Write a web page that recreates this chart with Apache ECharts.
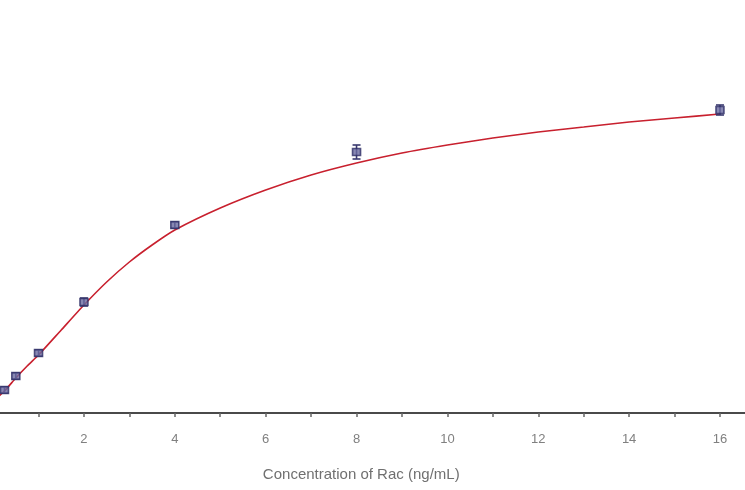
<!DOCTYPE html>
<html>
<head>
<meta charset="utf-8">
<script src="https://cdn.jsdelivr.net/npm/echarts@6/dist/echarts.min.js"></script>
<style>html,body{margin:0;padding:0;background:#fff;}#c{width:745px;height:490px;}</style>
</head>
<body>
<div id="c"></div>
<script>
// Measured points: concentration (ng/mL) and response
var concentrations = [0.25, 0.5, 1, 2, 4, 8, 16];
var responses = [0.23, 0.37, 0.60, 1.11, 1.88, 2.61, 3.03];
var errors = [0.03, 0.03, 0.03, 0.04, 0.03, 0.07, 0.05];
// Fitted curve
var curveX = [0, 0.25, 0.5, 0.75, 1, 1.5, 2, 2.5, 3, 3.5, 4, 5, 6, 7, 8, 9, 10, 11, 12, 13, 14, 15, 16];
var curveY = [0.12, 0.22, 0.35, 0.47, 0.58, 0.83, 1.08, 1.31, 1.51, 1.68, 1.83, 2.05, 2.23, 2.38, 2.50, 2.60, 2.68, 2.75, 2.81, 2.86, 2.91, 2.95, 2.99];
var xTicks = [0, 2, 4, 6, 8, 10, 12, 14, 16];

var pts = concentrations.map(function (c, i) { return [c, responses[i]]; });
var errData = concentrations.map(function (c, i) { return [c, responses[i] - errors[i], responses[i] + errors[i]]; });
var curve = curveX.map(function (c, i) { return [c, curveY[i]]; });

var chart = echarts.init(document.getElementById('c'));
chart.setOption({
  animation: false,
  backgroundColor: '#ffffff',
  grid: { left: -6.9, right: -20.4, top: 13, bottom: 77, containLabel: false, outerBoundsMode: 'none' },
  xAxis: {
    type: 'value', min: 0, max: 17, interval: 1,
    axisLine: { onZero: false, lineStyle: { color: '#4a4a4a', width: 2 } },
    axisTick: { show: true, length: 4, lineStyle: { color: '#666', width: 1.5 } },
    splitLine: { show: false },
    axisLabel: {
      margin: 20, color: '#808080', fontSize: 13, fontFamily: 'Liberation Sans',
      formatter: function (v) { return xTicks.indexOf(v) >= 0 ? String(v) : ''; }
    },
    name: 'Concentration of Rac (ng/mL)', nameLocation: 'middle', nameGap: 54,
    nameTextStyle: { color: '#707070', fontSize: 15, fontFamily: 'Liberation Sans', padding: [0, 36, 0, 0] }
  },
  yAxis: { type: 'value', min: 0, max: 4, show: false, splitLine: { show: false } },
  series: [
    {
      type: 'line', data: curve, smooth: 0.2, showSymbol: false, symbol: 'none',
      lineStyle: { color: '#c8202e', width: 1.6 }, z: 2
    },
    {
      type: 'custom', z: 3,
      renderItem: function (params, api) {
        var x = api.value(0);
        var lo = api.coord([x, api.value(1)]);
        var hi = api.coord([x, api.value(2)]);
        var hw = 4;
        var st = { stroke: '#3a3a70', lineWidth: 1.6 };
        return {
          type: 'group', children: [
            { type: 'line', shape: { x1: lo[0], y1: lo[1], x2: hi[0], y2: hi[1] }, style: st },
            { type: 'line', shape: { x1: lo[0] - hw, y1: lo[1], x2: lo[0] + hw, y2: lo[1] }, style: st },
            { type: 'line', shape: { x1: hi[0] - hw, y1: hi[1], x2: hi[0] + hw, y2: hi[1] }, style: st }
          ]
        };
      },
      data: errData
    },
    {
      type: 'scatter', data: pts, symbol: 'rect', symbolSize: [8, 7], z: 4,
      itemStyle: { color: '#6a6aa0', borderColor: '#2e2e66', borderWidth: 1.5 }
    }
  ]
});
</script>
</body>
</html>
